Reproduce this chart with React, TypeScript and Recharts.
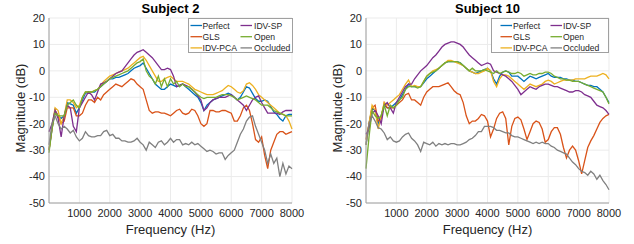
import React from 'react'
import { LineChart, Line, XAxis, YAxis, CartesianGrid } from 'recharts'

const FREQ = [
  0, 100, 200, 300, 400, 500, 600, 700, 800, 900,
  1000, 1100, 1200, 1300, 1400, 1500, 1600, 1700, 1800, 1900,
  2000, 2100, 2200, 2300, 2400, 2500, 2600, 2700, 2800, 2900,
  3000, 3100, 3200, 3300, 3400, 3500, 3600, 3700, 3800, 3900,
  4000, 4100, 4200, 4300, 4400, 4500, 4600, 4700, 4800, 4900,
  5000, 5100, 5200, 5300, 5400, 5500, 5600, 5700, 5800, 5900,
  6000, 6100, 6200, 6300, 6400, 6500, 6600, 6700, 6800, 6900,
  7000, 7100, 7200, 7300, 7400, 7500, 7600, 7700, 7800, 7900,
  8000,
]
const X_TICKS = [1000, 2000, 3000, 4000, 5000, 6000, 7000, 8000]
const Y_TICKS = [-50, -40, -30, -20, -10, 0, 10, 20]

// Subject 2
const PERFECT_S2 = [
  -30, -22, -15, -17, -18, -17, -12, -12.5, -13, -16,
  -14, -11, -8.5, -8, -8, -8, -7, -6, -5, -4,
  -3, -3, -2.5, -2.5, -2, -1.5, -1, 0, 1, 1.5,
  2, 3, 1, -1, -3, -5, -6, -7, -7, -6,
  -5, -5.5, -6, -5.5, -5, -6, -7, -8, -9, -10,
  -12, -15, -13, -12, -11, -10.5, -10, -9.5, -9, -8.5,
  -9, -10, -11, -10, -8, -6, -6.5, -8.5, -10.5, -11.5,
  -11.5, -11, -11.5, -13.5, -15.5, -16.5, -18, -19, -17, -16.5,
  -16.5,
]
const GLS_S2 = [
  -30, -22, -15, -17, -20, -19, -14, -14, -14, -17,
  -17, -16, -13, -11, -11, -12, -10, -11, -9, -8,
  -7, -6, -5, -5.5, -6, -5, -4, -3, -3.5, -5,
  -6, -7, -11, -15, -16, -15.5, -15.5, -16, -16, -16.5,
  -17, -16, -15, -14.5, -16, -16.5, -16, -14.5, -15, -17,
  -20, -21, -20, -15, -15, -15.5, -15.5, -15, -15, -15.5,
  -16, -19, -19, -17, -14, -13, -15, -20, -26, -27,
  -25, -32, -37, -30, -27, -24, -23, -23, -24, -23.5,
  -23,
]
const PCA_S2 = [
  -30, -21, -14, -15, -20, -17, -11, -11, -12, -14,
  -13, -10, -8, -8, -8, -7.5, -7, -5.5, -4, -3,
  -2, -1.5, -1, -0.5, 0, 0.5, 1, 2, 3, 4,
  5, 5.5, 4, 2, 0, -2, -4, -4, -3, -2.5,
  -2, -3, -4, -4, -4, -4.5, -5, -6, -7, -7.5,
  -8, -8.5, -9, -9, -9, -8.5, -8, -7.5, -6.5, -5.5,
  -6, -7, -8, -8.5, -7.5, -5, -4.5, -5.5, -7, -9,
  -10, -11, -12, -13, -14, -15, -16, -16.5, -17, -19,
  -22,
]
const SP_S2 = [
  -23, -20, -15, -18, -25, -17, -13, -14, -21, -23,
  -14, -12, -10, -8, -9, -11, -8, -5, -4.5, -4,
  -3, -2, -1, -0.5, 0, 1.5, 3, 4.5, 6, 7,
  7.5, 8, 7, 6, 5, 3.5, 2, 0.5, 0.5, 1,
  0.5, -2, -6, -5.5, -5, -5.5, -6, -7, -8, -9.5,
  -11, -15, -14, -12, -11, -10.5, -10, -10, -10, -9.5,
  -9, -10, -11, -12, -13, -15, -13, -11, -10, -9.5,
  -12, -14, -16, -16, -16, -16, -16.5, -15.5, -15, -15,
  -15,
]
const OPEN_S2 = [
  -31, -22, -16, -17, -17, -17, -13, -12, -11, -13,
  -14, -10, -8, -8, -8, -7.5, -7, -6, -5, -4,
  -3, -2.5, -2, -1.5, -1, -0.5, 0, 1, 2, 3,
  3.5, 4.5, 0, -2, -3, -5, -2, -6, -3, -6,
  -3, -5, -4, -6, -5, -6, -6, -7, -8, -9,
  -10, -10.5, -10, -10, -10, -10, -9.5, -9, -9, -9,
  -9.5, -10, -11, -10.5, -10, -9.5, -10, -10.5, -11, -12,
  -13, -13, -13, -14, -15, -15.5, -16, -16.5, -17, -17,
  -17,
]
const OCC_S2 = [
  -28, -20, -17, -20, -22, -21, -22, -23.5, -22.5, -25,
  -26.5, -25.5, -23, -24.5, -25, -25, -24.5, -24.5, -23, -22.5,
  -24.5, -24, -25.5, -25.5, -26.5, -26.5, -27, -27, -26.5, -25.5,
  -27, -28, -30, -27, -28, -29, -27, -26.5, -28, -27,
  -25.5, -27, -26, -26, -28, -27.5, -28, -27, -28, -27.5,
  -28.5, -29.5, -30.5, -30, -30.5, -31.5, -31, -31, -33.5, -32,
  -31, -30, -27, -24, -22, -19, -17.5, -17, -21, -24,
  -27, -30, -35, -31.5, -35, -33, -40, -35, -39, -36,
  -37,
]

// Subject 10
const PERFECT_S10 = [
  -28, -20, -14, -15, -20, -17, -13, -14, -14, -13,
  -12, -11, -9, -7, -5, -6, -6, -6, -6, -4.5,
  -3, -2, -1, 0, 1, 2, 3, 3.5, 3.5, 3.5,
  3.5, 3, 2, 1, 0, -0.5, -1, -0.5, 0, 0.5,
  1, 0, -3, -5, -2, -0.5, 0, -0.5, -2, -2,
  -2, -3, -4, -3, -2, -2.5, -3, -2.5, -2, -1.5,
  -1, -2, -2.5, -2.5, -2.5, -3, -3, -3.5, -3.5, -4,
  -4, -4.5, -5, -5.5, -5.5, -6, -6, -7, -8, -10,
  -12,
]
const GLS_S10 = [
  -26, -20, -14, -13, -19, -18, -12, -14, -14, -14,
  -13, -12, -11, -9, -8.5, -11, -11, -12, -13, -10,
  -8, -7, -6, -6, -6, -5.5, -5, -4.5, -6, -7.5,
  -8.5, -9, -12, -17, -20, -19, -19, -18, -16.5, -17,
  -19, -25, -22, -18, -16, -15.5, -18, -28, -21, -18,
  -17.5, -18.5, -22, -26, -23, -20, -19, -19.5, -22, -27,
  -26, -23, -21.5, -21.5, -24, -29, -33, -30, -28.5, -30,
  -34, -39, -34, -29, -26.5, -24.5, -22, -19.5, -18, -17,
  -16.5,
]
const PCA_S10 = [
  -28, -20, -13, -15, -22, -17, -12, -13, -12, -11,
  -10, -9, -7, -5, -3.5, -6, -5.5, -6, -6, -4,
  -2, -1, 0, 0.5, 1, 2, 3, 4, 4, 3.5,
  3, 2.5, 2, 1, 0, -0.5, -1, -1, -0.5, 0,
  1, 0, -4, -6, -3, -1.5, -1.5, -2, -3, -4,
  -5, -6, -7, -6, -5, -5.5, -6, -5.5, -5, -4,
  -3.5, -4, -5, -4.5, -4, -3.5, -3.5, -3.5, -3.5, -3,
  -3, -3, -3, -2.5, -2, -2, -2, -1.5, -1, -1.5,
  -3,
]
const SP_S10 = [
  -24, -22, -16, -15, -17, -20, -13, -12, -14, -16,
  -12, -10, -8, -6, -5, -5, -3, -1.5, 0, 1,
  2, 3.5, 5, 6, 7.5, 9, 10, 10.5, 11, 11,
  10.5, 10, 9, 7.5, 6, 5, 4, 3, 2, 2.5,
  3, 2.5, 0, -0.5, -1, -1.5, -2, -3, -4, -5.5,
  -7, -9, -8, -7, -6, -6.5, -7, -6, -5.5, -5,
  -5, -5.5, -6, -6, -6.5, -7, -7.5, -8, -8, -7.5,
  -7.5, -8, -9, -9.5, -10, -11.5, -13, -13.5, -14, -15,
  -16.5,
]
const OPEN_S10 = [
  -37, -25, -15, -17, -18, -17, -13, -17, -13, -14,
  -13, -11, -10, -7, -6, -6, -6, -6.5, -6, -4,
  -2, -1, -0.5, 0, 1, 2, 3, 3.5, 3.5, 3.5,
  3.5, 3, 2, 1, 0, 1, 0, 0, 0, 0.5,
  0, -0.5, -1, 0, -1, -0.5, 0, -0.5, -1, -1,
  -0.5, -1, -2, -1.5, -1, -1.5, -1.5, -1, -1, -0.5,
  -0.5, -1, -2, -2.5, -3, -3, -3.5, -3.5, -4, -4,
  -4, -4.5, -5, -5.5, -6, -6.5, -7, -7.5, -8, -10,
  -12.5,
]
const OCC_S10 = [
  -28, -20, -17, -19, -21.5, -22, -23.5, -26, -25, -26.5,
  -27, -26.5, -25, -24, -23.5, -25.5, -26.5, -28, -30.5, -27,
  -27.5, -28, -27, -28.5, -27.5, -28, -27.5, -28, -27.5, -27.5,
  -28, -28, -27.5, -27, -26, -25.5, -24.5, -23, -23, -21,
  -21, -21, -21.5, -22.5, -22.5, -23, -23.5, -23.5, -24.5, -25,
  -25, -25.5, -26, -26.5, -27, -27.5, -27, -27.5, -27, -27.5,
  -27.5, -28.5, -29, -30, -30.5, -31, -31.5, -33, -34.5, -35.5,
  -37, -38, -38.5, -39.5, -38, -39, -41, -39.5, -41.5, -43,
  -45,
]

const SERIES = [
  { key: 'Perfect', color: '#0072BD' },
  { key: 'GLS', color: '#D95319' },
  { key: 'IDV-PCA', color: '#EDB120' },
  { key: 'IDV-SP', color: '#7E2F8E' },
  { key: 'Open', color: '#77AC30' },
  { key: 'Occluded', color: '#808080' },
]

const rows = (cols: number[][]) =>
  FREQ.map((f, i) => {
    const r: any = { f }
    SERIES.forEach((s, k) => { r[s.key] = cols[k][i] })
    return r
  })

const data2 = rows([PERFECT_S2, GLS_S2, PCA_S2, SP_S2, OPEN_S2, OCC_S2])
const data10 = rows([PERFECT_S10, GLS_S10, PCA_S10, SP_S10, OPEN_S10, OCC_S10])

const FONT = '"Liberation Sans", Arial, Helvetica, sans-serif'
const TXT = '#262626'
const FRAME = '#a0a0a0'

function LegendBox({ left, width, col1, col2, text1, text2 }: any) {
  // legend is filled column by column, like the reference
  return (
    <div style={{ position: 'absolute', left, top: 18, width, height: 35, border: `1px solid ${FRAME}`, background: '#fff', boxSizing: 'border-box', fontSize: 8.6, color: TXT }}>
      <svg width={width} height={35} style={{ position: 'absolute', left: -1, top: -1 }}>
        {SERIES.map((s, i) => {
          const c = Math.floor(i / 3)
          const cy = 7.5 + (i % 3) * 11.2
          const lx = (c === 0 ? col1 : col2) - left
          return <line key={s.key} x1={lx} x2={lx + 11.5} y1={cy} y2={cy} stroke={s.color} strokeWidth={1.3} />
        })}
      </svg>
      {SERIES.map((s, i) => {
        const c = Math.floor(i / 3)
        const cy = 7.5 + (i % 3) * 11.2
        const tx = (c === 0 ? text1 : text2) - left
        return (
          <div key={s.key} style={{ position: 'absolute', left: tx - 1, top: cy - 7, lineHeight: '12px', whiteSpace: 'nowrap' }}>{s.key}</div>
        )
      })}
    </div>
  )
}

function Panel({ left, title, data, legend }: any) {
  return (
    <div style={{ position: 'absolute', left, top: 0, width: 317, height: 244 }}>
      <LineChart width={317} height={244} data={data} margin={{ top: 18, right: 25, bottom: 0, left: 9 }}>
        <CartesianGrid stroke="#ebebeb" strokeWidth={1} />
        <XAxis dataKey="f" type="number" domain={[0, 8000]} ticks={X_TICKS} height={41}
          axisLine={{ stroke: FRAME }} tickLine={false} tickSize={3} tickMargin={3}
          tick={{ fontSize: 11, fill: TXT, fontFamily: FONT }} interval={0} />
        <XAxis xAxisId="top" dataKey="f" type="number" domain={[0, 8000]} orientation="top" height={0}
          tick={false} tickLine={false} axisLine={{ stroke: FRAME }} />
        <YAxis type="number" domain={[-50, 20]} ticks={Y_TICKS} width={40} interval={0}
          axisLine={{ stroke: FRAME }} tickLine={false} tickSize={2} tickMargin={2}
          tick={{ fontSize: 11, fill: TXT, fontFamily: FONT }} />
        <YAxis yAxisId="right" type="number" domain={[-50, 20]} orientation="right" width={0}
          tick={false} tickLine={false} axisLine={{ stroke: FRAME }} />
        {SERIES.map(s => (
          <Line key={s.key} dataKey={s.key} stroke={s.color} strokeWidth={1.3} dot={false}
            type="linear" isAnimationActive={false} />
        ))}
      </LineChart>
      <div style={{ position: 'absolute', left: 49, width: 243, top: 0, textAlign: 'center', fontWeight: 'bold', fontSize: 13, lineHeight: '18px', color: '#000' }}>{title}</div>
      <div style={{ position: 'absolute', left: 49, width: 243, top: 221, textAlign: 'center', fontSize: 13, lineHeight: '18px', color: TXT }}>Frequency (Hz)</div>
      <div style={{ position: 'absolute', left: 21 - 100, top: 108 - 9, width: 200, height: 18, textAlign: 'center', fontSize: 13, lineHeight: '18px', color: TXT, transform: 'rotate(-90deg)' }}>Magnitude (dB)</div>
      <LegendBox {...legend} />
    </div>
  )
}

export default function App() {
  return (
    <div style={{ position: 'absolute', left: 0, top: 0, width: 634, height: 244, background: '#fff', fontFamily: FONT, overflow: 'hidden' }}>
      <Panel left={0} title="Subject 2" data={data2}
        legend={{ left: 188, width: 105, col1: 190.5, text1: 202.5, col2: 240.5, text2: 254 }} />
      <Panel left={317} title="Subject 10" data={data10}
        legend={{ left: 174, width: 118, col1: 183.5, text1: 196, col2: 233.5, text2: 246 }} />
    </div>
  )
}
